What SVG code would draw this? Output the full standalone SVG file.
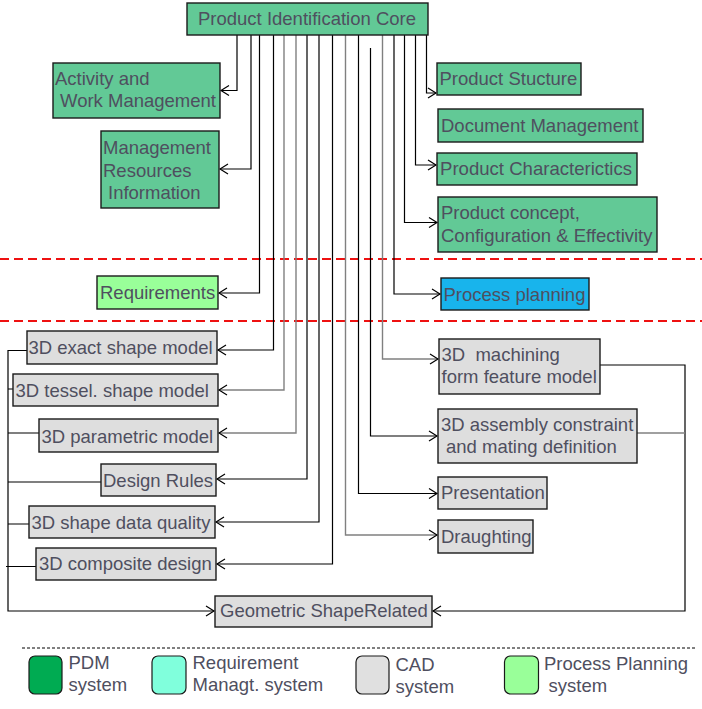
<svg xmlns="http://www.w3.org/2000/svg" width="702" height="709" viewBox="0 0 702 709">
<style>
  .t { font-family: "Liberation Sans", Arial, sans-serif; font-size: 18.5px; fill: #4f4f5f; }
  .pdm { fill: #62c996; stroke: #1a1a1a; stroke-width: 1.4; }
  .cad { fill: #dedede; stroke: #1a1a1a; stroke-width: 1.4; }
  .req { fill: #99ff99; stroke: #1a1a1a; stroke-width: 1.4; }
  .pp { fill: #18b4ec; stroke: #1a1a1a; stroke-width: 1.4; }
  .c { fill: none; stroke: #000; stroke-width: 1.2; }
  .g { fill: none; stroke: #808080; stroke-width: 1.4; }
  .arr { marker-end: url(#ah); }
  .arrg { marker-end: url(#ahg); }
  .red { stroke: #ee1111; stroke-width: 2; stroke-dasharray: 9 5; fill: none; }
  .leg { stroke: #000; stroke-width: 1; stroke-dasharray: 3 2; fill: none; }
  .sw { stroke: #1a1a1a; stroke-width: 1.2; }
</style>
<defs>
  <marker id="ah" markerUnits="userSpaceOnUse" markerWidth="12" markerHeight="14" viewBox="-10 -7 12 14" refX="0" refY="0" orient="auto">
    <path d="M-8,-5 L0,0 L-8,5" fill="none" stroke="#000" stroke-width="1.2"/>
  </marker>
  <marker id="ahg" markerUnits="userSpaceOnUse" markerWidth="12" markerHeight="14" viewBox="-10 -7 12 14" refX="0" refY="0" orient="auto">
    <path d="M-8,-5 L0,0 L-8,5" fill="none" stroke="#555" stroke-width="1.2"/>
  </marker>
</defs>
<rect width="702" height="709" fill="#ffffff"/>

<g id="separators">
  <line class="red" x1="0" y1="259" x2="702" y2="259"/>
  <line class="red" x1="0" y1="321" x2="702" y2="321"/>
  <line class="leg" x1="22" y1="648" x2="697" y2="648"/>
</g>

<g id="connectors">
  <path class="c arr" d="M237,35 V90.5 H221"/>
  <path class="c arr" d="M251,35 V169 H220"/>
  <path class="c arr" d="M259.5,35 V293 H219"/>
  <path class="c arr" d="M273.5,35 V350 H218"/>
  <path class="g arr" d="M284,35 V390 H219"/>
  <path class="g arr" d="M296,35 V433 H219"/>
  <path class="c arr" d="M307,35 V479 H217"/>
  <path class="c arr" d="M319,35 V522 H216"/>
  <path class="c arr" d="M332.5,35 V564 H217"/>
  <path class="g arr" d="M345.5,35 V535 H437"/>
  <path class="c arr" d="M358.5,35 V493.5 H437"/>
  <path class="c arr" d="M370.5,48 V436 H437"/>
  <path class="g arr" d="M382.5,35 V359 H438"/>
  <path class="c arr" d="M394,35 V294 H440"/>
  <path class="c arr" d="M404.5,35 V222.5 H437"/>
  <path class="c arr" d="M415.5,35 V165 H436"/>
  <path class="c arr" d="M426.5,35 V93 H436"/>
  <path class="c arr" d="M27,350.5 H8 V611 H214"/>
  <path class="c" d="M8,389 H13 M8,433 H39 M8,482 H101 M8,524 H29 M6,566.5 H36"/>
  <path class="c arr" d="M600,365 H685 V611 H433"/>
  <path class="g" d="M637,433 H685"/>
</g>

<g id="core">
  <rect class="pdm" x="187" y="3" width="241" height="32"/>
  <text class="t" x="198" y="25">Product Identification Core</text>
</g>
<g id="activity">
  <rect class="pdm" x="53" y="63" width="167" height="55"/>
  <text class="t" x="55" y="85">Activity and</text>
  <text class="t" x="60" y="107">Work Management</text>
</g>
<g id="mgmt-resources">
  <rect class="pdm" x="101" y="131" width="118" height="77"/>
  <text class="t" x="103" y="154">Management</text>
  <text class="t" x="103" y="176.5">Resources</text>
  <text class="t" x="108" y="198.5">Information</text>
</g>
<g id="product-structure">
  <rect class="pdm" x="437" y="63" width="144" height="32"/>
  <text class="t" x="439.5" y="85">Product Stucture</text>
</g>
<g id="document-management">
  <rect class="pdm" x="438" y="109" width="205" height="33"/>
  <text class="t" x="441" y="132">Document Management</text>
</g>
<g id="product-characteristics">
  <rect class="pdm" x="437" y="153" width="200" height="32"/>
  <text class="t" x="440" y="174.5" textLength="192" lengthAdjust="spacingAndGlyphs">Product Characterictics</text>
</g>
<g id="product-concept">
  <rect class="pdm" x="438" y="197" width="219" height="55"/>
  <text class="t" x="441" y="219">Product concept,</text>
  <text class="t" x="441" y="242">Configuration &amp; Effectivity</text>
</g>
<g id="process-planning">
  <rect class="pp" x="441" y="278" width="148" height="32"/>
  <text class="t" x="443.5" y="300.5">Process planning</text>
</g>
<g id="requirements">
  <rect class="req" x="97" y="276" width="121" height="33"/>
  <text class="t" x="100" y="299">Requirements</text>
</g>
<g id="exact-shape">
  <rect class="cad" x="27" y="331" width="190" height="33"/>
  <text class="t" x="28.5" y="354">3D exact shape model</text>
</g>
<g id="tessel-shape">
  <rect class="cad" x="13" y="374" width="205" height="32"/>
  <text class="t" x="15.5" y="397">3D tessel. shape model</text>
</g>
<g id="parametric">
  <rect class="cad" x="39" y="419" width="179" height="33"/>
  <text class="t" x="41.5" y="442.5">3D parametric model</text>
</g>
<g id="design-rules">
  <rect class="cad" x="101" y="464" width="115" height="32"/>
  <text class="t" x="103" y="486.5">Design Rules</text>
</g>
<g id="data-quality">
  <rect class="cad" x="29" y="506" width="186" height="32"/>
  <text class="t" x="31.5" y="529">3D shape data quality</text>
</g>
<g id="composite">
  <rect class="cad" x="36" y="548" width="180" height="32"/>
  <text class="t" x="39" y="570">3D composite design</text>
</g>
<g id="machining">
  <rect class="cad" x="439" y="339" width="161" height="55"/>
  <text class="t" x="441.5" y="360.5" xml:space="preserve">3D  machining</text>
  <text class="t" x="441.5" y="383">form feature model</text>
</g>
<g id="assembly">
  <rect class="cad" x="438" y="409" width="199" height="54"/>
  <text class="t" x="441" y="430.5">3D assembly constraint</text>
  <text class="t" x="446" y="452.5">and mating definition</text>
</g>
<g id="presentation">
  <rect class="cad" x="438" y="477" width="109" height="32"/>
  <text class="t" x="441" y="499">Presentation</text>
</g>
<g id="draughting">
  <rect class="cad" x="438" y="520" width="95" height="33"/>
  <text class="t" x="441" y="542.5">Draughting</text>
</g>
<g id="geometric">
  <rect class="cad" x="215" y="596" width="217" height="31"/>
  <text class="t" x="220" y="616.5">Geometric ShapeRelated</text>
</g>

<g id="legend">
  <rect class="sw" x="29" y="656" width="33" height="38" rx="6" fill="#00ab52"/>
  <text class="t" x="68.5" y="669">PDM</text>
  <text class="t" x="68.5" y="691">system</text>
  <rect class="sw" x="152" y="656" width="34" height="38" rx="6" fill="#80ffdc"/>
  <text class="t" x="192.5" y="669">Requirement</text>
  <text class="t" x="192.5" y="691">Managt. system</text>
  <rect class="sw" x="356" y="656" width="33" height="38" rx="6" fill="#e0e0e0"/>
  <text class="t" x="395.5" y="670.5">CAD</text>
  <text class="t" x="395.5" y="693">system</text>
  <rect class="sw" x="504.5" y="656" width="34" height="38" rx="6" fill="#99ff99"/>
  <text class="t" x="544" y="669.5">Process Planning</text>
  <text class="t" x="548.5" y="692">system</text>
</g>
</svg>
